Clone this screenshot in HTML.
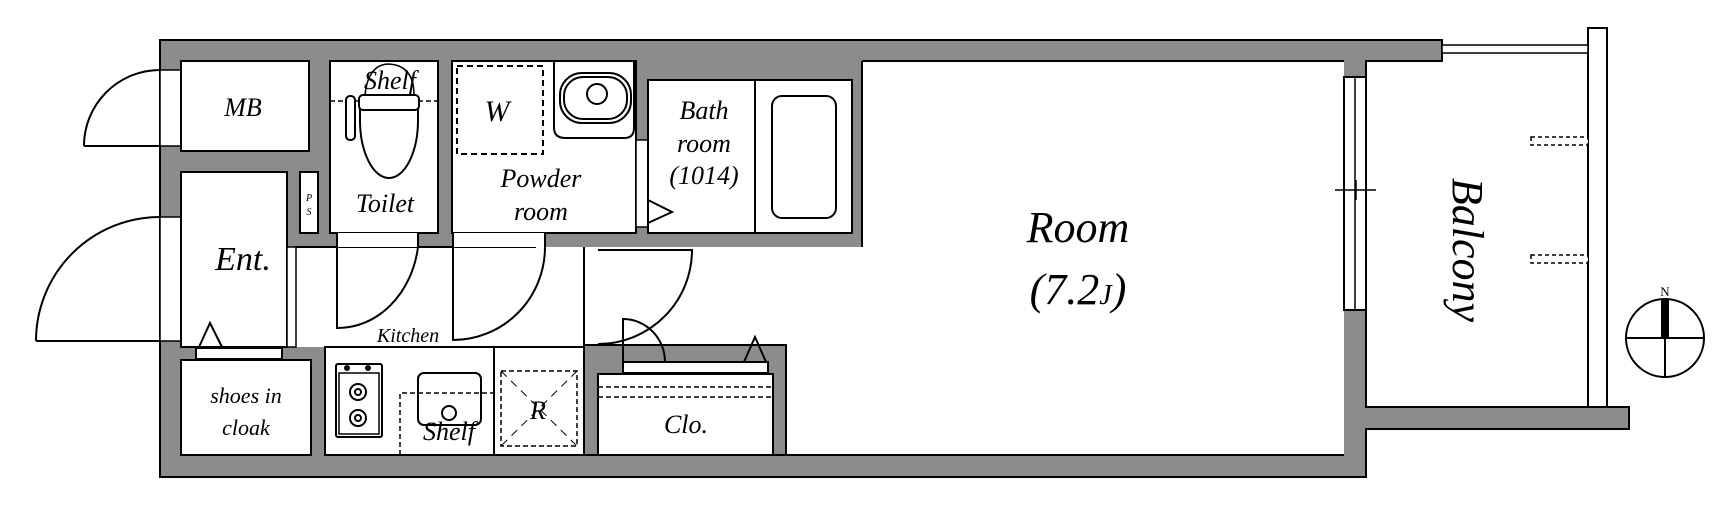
<!DOCTYPE html>
<html><head><meta charset="utf-8"><style>
html,body{margin:0;padding:0;background:#fff;}
svg{display:block;}
text{font-family:"Liberation Serif",serif;font-style:italic;fill:#000;}
</style></head><body>
<svg width="1733" height="519" viewBox="0 0 1733 519" xmlns="http://www.w3.org/2000/svg">
<g stroke="#000" stroke-width="2" fill="#fff">
<!-- outer gray -->
<path d="M160,40 H1442 V61 H1366 V407 H1629 V429 H1366 V477 H160 Z" fill="#8c8c8c"/>
<!-- left door openings -->
<rect x="160" y="70" width="21" height="76" stroke-width="1.5"/>
<rect x="160" y="217" width="21" height="124" stroke-width="1.5"/>
<!-- room + corridor -->
<path d="M862,61 H1344 V455 H786 V362 H598 V345 H584 V347 H296 V247 H862 Z" stroke="none"/>
<path d="M862,61 H1344 M1344,455 H786 V362 M584,347 H325 M296,247 H536 M584,247 V345" fill="none"/>
<path d="M862,61 V247" fill="none"/>
<!-- window room/balcony -->
<rect x="1344" y="77" width="22" height="233"/>
<line x1="1355" y1="77" x2="1355" y2="310" stroke-width="1.5"/>
<line x1="1335" y1="190" x2="1376" y2="190" stroke-width="1.5"/>
<line x1="1356" y1="180" x2="1356" y2="200" stroke-width="1.5"/>
<!-- balcony rail -->
<rect x="1588" y="28" width="19" height="379"/>
<rect x="1442" y="45" width="146" height="8" stroke-width="1.5"/>
<rect x="1531" y="137" width="57" height="8" stroke-dasharray="4,3" stroke-width="1.5"/>
<rect x="1531" y="255" width="57" height="8" stroke-dasharray="4,3" stroke-width="1.5"/>
<!-- rooms -->
<rect x="181" y="61" width="128" height="90"/>
<rect x="181" y="172" width="106" height="175"/>
<rect x="287" y="247" width="9" height="100" stroke-width="1.5"/>
<rect x="300" y="172" width="18" height="61"/>
<rect x="330" y="61" width="108" height="172"/>
<rect x="452" y="61" width="184" height="172"/>
<rect x="636" y="140" width="12" height="87" stroke-width="1.5"/>
<rect x="648" y="80" width="107" height="153"/>
<rect x="755" y="80" width="97" height="153"/>
<rect x="772" y="96" width="64" height="122" rx="10"/>
<!-- door openings to corridor -->
<rect x="337" y="233" width="81" height="14" stroke="none"/>
<rect x="453" y="233" width="92" height="14" stroke="none"/>
<line x1="337" y1="233" x2="337" y2="247"/><line x1="418" y1="233" x2="418" y2="247"/>
<line x1="453" y1="233" x2="453" y2="247"/><line x1="545" y1="233" x2="545" y2="247"/>
<!-- lower boxes -->
<rect x="196" y="348" width="86" height="11"/>
<rect x="181" y="360" width="130" height="95"/>
<rect x="325" y="347" width="169" height="108"/>
<rect x="494" y="347" width="90" height="108"/>
<rect x="584" y="345" width="202" height="110" fill="#8c8c8c"/>
<rect x="623" y="362" width="145" height="11"/>
<rect x="598" y="374" width="175" height="81"/>
<line x1="598" y1="387" x2="773" y2="387" stroke-dasharray="5,3" stroke-width="1.5"/>
<line x1="598" y1="397" x2="773" y2="397" stroke-dasharray="5,3" stroke-width="1.5"/>
<rect x="501" y="371" width="76" height="75" stroke-dasharray="5,3" stroke-width="1.5" fill="none"/>
<path d="M501,371 L577,446 M577,371 L501,446" stroke-dasharray="8,6" stroke-width="1" fill="none"/>
<!-- kitchen -->
<rect x="336" y="364" width="46" height="73" rx="2"/>
<rect x="339" y="373" width="40" height="61" stroke-width="1.5"/>
<circle cx="347" cy="368" r="2" fill="#000"/><circle cx="368" cy="368" r="2" fill="#000"/>
<circle cx="358" cy="392" r="8" fill="none"/><circle cx="358" cy="392" r="3" fill="none"/>
<circle cx="358" cy="418" r="8" fill="none"/><circle cx="358" cy="418" r="3" fill="none"/>
<rect x="418" y="373" width="63" height="52" rx="6"/>
<circle cx="449" cy="413" r="7" fill="none"/>
<path d="M400,455 V393 H494" fill="none" stroke-dasharray="5,3" stroke-width="1.5"/>
<!-- toilet -->
<line x1="330" y1="101" x2="438" y2="101" stroke-dasharray="5,3" stroke-width="1.5"/>
<path d="M360,100 L360,120 A29,58 0 0 0 418,120 L418,100 Z"/>
<rect x="359" y="95" width="60" height="15" rx="4"/>
<rect x="346" y="96" width="9" height="44" rx="4"/>
<path d="M365,95 Q368,65 388,64 Q414,65 414,95" fill="none" stroke-width="1.5"/>
<!-- powder -->
<rect x="457" y="66" width="86" height="88" fill="none" stroke-dasharray="6,4" stroke-width="2"/>
<path d="M554,61 H634 V128 Q634,138 624,138 H566 Q554,138 554,128 Z"/>
<rect x="560" y="73" width="71" height="50" rx="22"/>
<rect x="564" y="77" width="63" height="42" rx="19"/>
<circle cx="597" cy="94" r="10" fill="none"/>
<!-- triangles -->
<path d="M648,200 L672,212 L648,223" fill="none"/>
<path d="M199,347 L210,323 L222,347" fill="none"/>
<path d="M744,362 L755,337 L766,362" fill="none"/>
<!-- doors -->
<path d="M84,146 H160 M84,146 A76,76 0 0 1 160,70" fill="none"/>
<path d="M36,341 H160 M36,341 A124,124 0 0 1 160,217" fill="none"/>
<path d="M337,247 V328 A81,95 0 0 0 418,247" fill="none"/>
<path d="M453,247 V340 A92,93 0 0 0 545,247" fill="none"/>
<path d="M598,250 H692 A94,94 0 0 1 598,344" fill="none"/>
<path d="M623,362 V319 A42,43 0 0 1 665,362" fill="none"/>
<!-- compass -->
<circle cx="1665" cy="338" r="39"/>
<line x1="1626" y1="338" x2="1704" y2="338"/>
<line x1="1665" y1="338" x2="1665" y2="377"/>
<rect x="1662" y="300" width="6" height="38" fill="#000"/>
</g>
<g text-anchor="middle">
<text x="243" y="116" font-size="26">MB</text>
<text x="390" y="89" font-size="26">Shelf</text>
<text x="385" y="212" font-size="26">Toilet</text>
<text x="497" y="121" font-size="30">W</text>
<text x="541" y="187" font-size="26">Powder</text>
<text x="541" y="220" font-size="26">room</text>
<text x="704" y="119" font-size="26">Bath</text>
<text x="704" y="152" font-size="26">room</text>
<text x="704" y="184" font-size="26">(1014)</text>
<text x="243" y="270" font-size="34">Ent.</text>
<text x="309" y="201" font-size="10">P</text>
<text x="309" y="215" font-size="10">S</text>
<text x="408" y="342" font-size="20">Kitchen</text>
<text x="246" y="403" font-size="22">shoes in</text>
<text x="246" y="435" font-size="22">cloak</text>
<text x="449" y="440" font-size="26">Shelf</text>
<text x="538" y="419" font-size="26">R</text>
<text x="686" y="433" font-size="26">Clo.</text>
<text x="1078" y="242" font-size="44">Room</text>
<text x="1078" y="304" font-size="44">(7.2<tspan font-size="28">J</tspan>)</text>
<text x="1665" y="296" font-size="13" style="font-style:normal">N</text>
<text x="0" y="0" font-size="44" transform="translate(1453,250) rotate(90)">Balcony</text>
</g>
</svg>
</body></html>
